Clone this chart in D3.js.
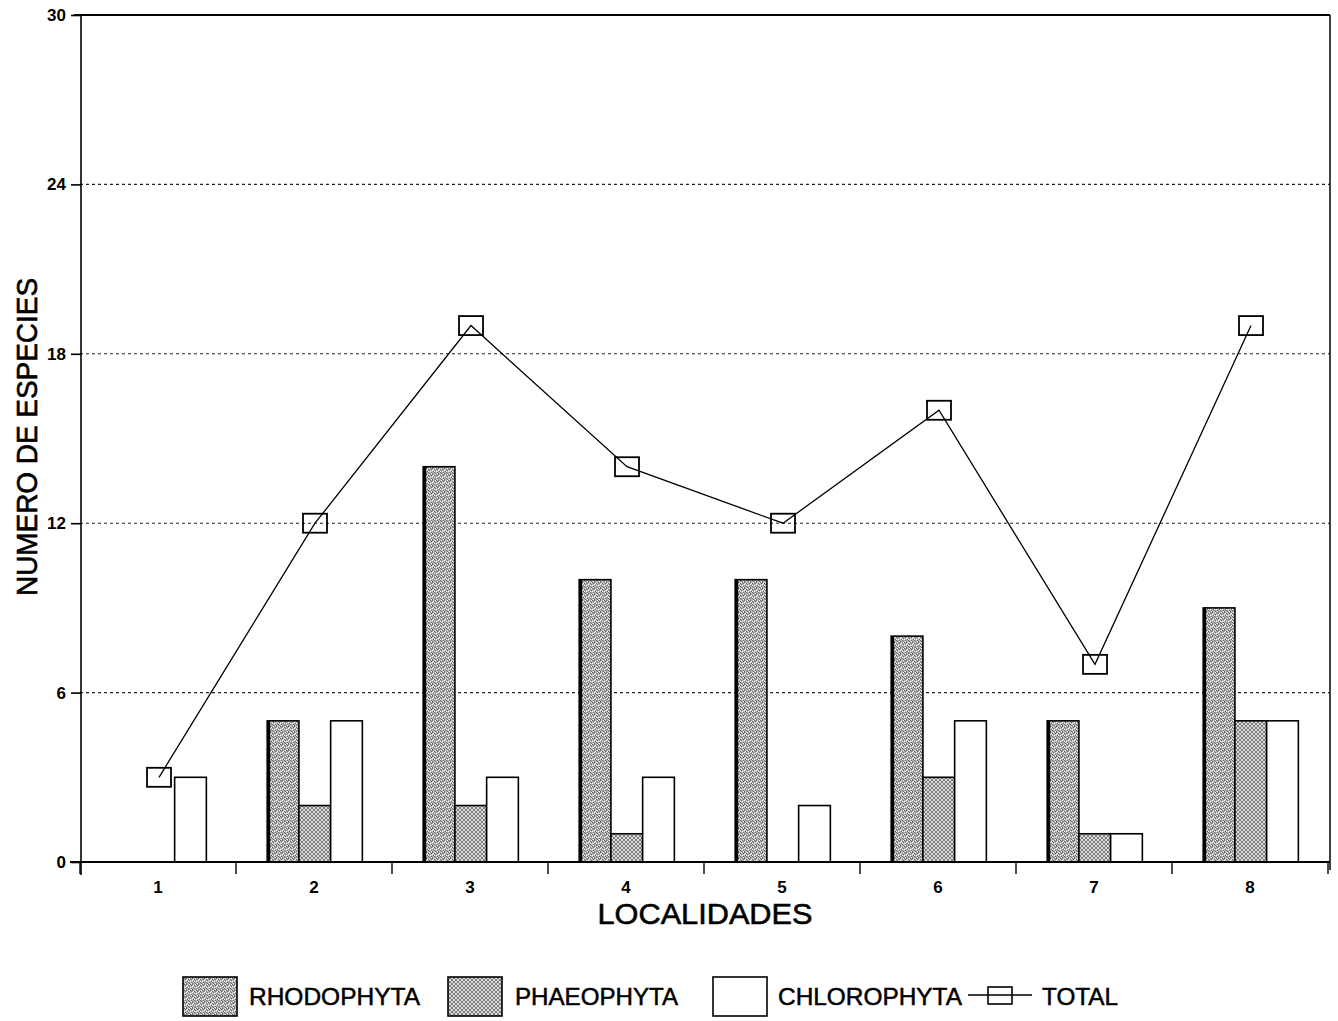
<!DOCTYPE html>
<html><head><meta charset="utf-8">
<script src="https://cdn.jsdelivr.net/npm/d3@7"></script>
<style>
html,body{margin:0;padding:0;background:#fff;}
svg{display:block;font-family:"Liberation Sans",Arial,sans-serif;}
</style></head>
<body>
<svg id="chart" width="1338" height="1021"></svg>
<script>
const categories = ["1","2","3","4","5","6","7","8"];
const seriesNames = ["RHODOPHYTA","PHAEOPHYTA","CHLOROPHYTA"];
const rhodophyta = [0,5,14,10,10,8,5,9];
const phaeophyta = [0,2,2,1,0,3,1,5];
const chlorophyta = [3,5,3,3,2,5,1,5];
const total = [3,12,19,14,12,16,7,19];
const yTicks = [0,6,12,18,24,30];

const svg = d3.select("#chart");
const defs = svg.append("defs");

// Rhodophyta: grainy grey
const pr = defs.append("pattern").attr("id","pRhodo").attr("patternUnits","userSpaceOnUse").attr("width",6).attr("height",6);
pr.append("rect").attr("width",6).attr("height",6).attr("fill","#b8b8b8");
[[0,0],[2,1],[4,0],[1,3],[3,2],[5,4],[0,5],[3,5],[2,4],[5,1]].forEach(([x,y])=>pr.append("rect").attr("x",x).attr("y",y).attr("width",1).attr("height",1).attr("fill","#666"));
[[1,1],[4,3],[0,2],[3,0],[5,5],[2,3]].forEach(([x,y])=>pr.append("rect").attr("x",x).attr("y",y).attr("width",1).attr("height",1).attr("fill","#fff"));

// Phaeophyta: crosshatch
const pp = defs.append("pattern").attr("id","pPhaeo").attr("patternUnits","userSpaceOnUse").attr("width",4).attr("height",4);
pp.append("rect").attr("width",4).attr("height",4).attr("fill","#dcdcdc");
pp.append("path").attr("d","M0,0L4,4M4,0L0,4").attr("stroke","#666").attr("stroke-width",0.8);

const fills = ["url(#pRhodo)","url(#pPhaeo)","#fff"];
const seriesData = [rhodophyta, phaeophyta, chlorophyta];

const x0 = d3.scaleBand().domain(categories).range([80,1328]).paddingInner(0).paddingOuter(0);
const bw = x0.bandwidth();
const x1 = d3.scaleBand().domain(seriesNames).range([bw*0.2, bw*0.81]).padding(0);
const y = d3.scaleLinear().domain([0,30]).range([862,15]);

// gridlines
svg.append("g").selectAll("line").data(yTicks.filter(t=>t>0 && t<30)).join("line")
  .attr("x1",80).attr("x2",1330).attr("y1",d=>y(d)).attr("y2",d=>y(d))
  .attr("stroke","#222").attr("stroke-width",1.1).attr("stroke-dasharray","3,3");

// bars
const g = svg.append("g");
seriesNames.forEach((s,si)=>{
  g.selectAll(".b"+si).data(categories.map((c,i)=>({c,v:seriesData[si][i]})).filter(d=>d.v>0)).join("rect")
    .attr("x",d=>x0(d.c)+x1(s)).attr("width",x1.bandwidth())
    .attr("y",d=>y(d.v)).attr("height",d=>y(0)-y(d.v))
    .attr("fill",fills[si]).attr("stroke","#000").attr("stroke-width",1.6);
  if(si===0){
    g.selectAll(".e"+si).data(categories.map((c,i)=>({c,v:seriesData[si][i]})).filter(d=>d.v>0)).join("line")
      .attr("x1",d=>x0(d.c)+x1(s)+1.5).attr("x2",d=>x0(d.c)+x1(s)+1.5)
      .attr("y1",d=>y(d.v)).attr("y2",y(0)).attr("stroke","#000").attr("stroke-width",3);
  }
});

// frame
svg.append("line").attr("x1",74).attr("x2",1330).attr("y1",y(30)).attr("y2",y(30)).attr("stroke","#000").attr("stroke-width",1.8);
svg.append("line").attr("x1",1330).attr("x2",1330).attr("y1",y(30)).attr("y2",870).attr("stroke","#000").attr("stroke-width",1.5);

// y axis
const yAxis = d3.axisLeft(y).tickValues(yTicks).tickSize(10).tickPadding(5).tickFormat(d3.format("d"));
const ya = svg.append("g").attr("transform","translate(81,0)").call(yAxis);
ya.attr("font-size",null).attr("font-family",null);
ya.select(".domain").remove();
ya.append("line").attr("x1",0).attr("x2",0).attr("y1",y(30)).attr("y2",875).attr("stroke","#000").attr("stroke-width",1.6);
ya.selectAll(".tick line").attr("stroke","#000").attr("stroke-width",1.6);
ya.selectAll(".tick text").style("font-size","17px").style("font-weight","bold").attr("fill","#000");

// x axis
const xa = svg.append("g").attr("transform",`translate(0,${y(0)})`);
xa.append("line").attr("x1",70).attr("x2",1330).attr("y1",0).attr("y2",0).attr("stroke","#000").attr("stroke-width",1.8);
xa.selectAll(".xt").data(categories.concat(["end"])).join("line")
  .attr("x1",d=>d==="end"?1328:x0(d)).attr("x2",d=>d==="end"?1328:x0(d))
  .attr("y1",0).attr("y2",12).attr("stroke","#000").attr("stroke-width",1.4);
xa.selectAll(".xl").data(categories).join("text")
  .attr("x",d=>x0(d)+bw/2).attr("y",31).attr("text-anchor","middle")
  .style("font-size","17px").style("font-weight","bold").text(d=>d);

// total line
const line = d3.line().x((d,i)=>x0(categories[i])+bw/2+1).y(d=>y(d));
svg.append("path").datum(total).attr("d",line).attr("fill","none").attr("stroke","#000").attr("stroke-width",1.3);
svg.append("g").selectAll("rect").data(total).join("rect")
  .attr("x",(d,i)=>x0(categories[i])+bw/2+1-12).attr("y",d=>y(d)-9.5)
  .attr("width",24).attr("height",19).attr("fill","none").attr("stroke","#000").attr("stroke-width",1.8);

// titles
svg.append("text").attr("x",705).attr("y",924).attr("text-anchor","middle")
  .attr("font-size",30).attr("stroke","#000").attr("stroke-width",0.6)
  .attr("textLength",215).attr("lengthAdjust","spacingAndGlyphs").text("LOCALIDADES");
svg.append("text").attr("transform","translate(37,437) rotate(-90)").attr("text-anchor","middle")
  .attr("font-size",29).attr("stroke","#000").attr("stroke-width",0.6)
  .attr("textLength",318).attr("lengthAdjust","spacingAndGlyphs").text("NUMERO DE ESPECIES");

// legend
const legendItems = [
  {name:"RHODOPHYTA", fill:fills[0], sx:183, tx:249, tl:171},
  {name:"PHAEOPHYTA", fill:fills[1], sx:448, tx:515, tl:163},
  {name:"CHLOROPHYTA", fill:fills[2], sx:713, tx:778, tl:184},
];
const lg = svg.append("g");
legendItems.forEach(it=>{
  lg.append("rect").attr("x",it.sx).attr("y",977).attr("width",54).attr("height",39)
    .attr("fill",it.fill).attr("stroke","#000").attr("stroke-width",1.6);
  lg.append("text").attr("x",it.tx).attr("y",1005).attr("font-size",24)
    .attr("stroke","#000").attr("stroke-width",0.5)
    .attr("textLength",it.tl).attr("lengthAdjust","spacingAndGlyphs").text(it.name);
});
lg.append("line").attr("x1",968).attr("x2",1032).attr("y1",995).attr("y2",995).attr("stroke","#000").attr("stroke-width",1.3);
lg.append("rect").attr("x",988).attr("y",987).attr("width",24).attr("height",17).attr("fill","none").attr("stroke","#000").attr("stroke-width",1.6);
lg.append("text").attr("x",1042).attr("y",1005).attr("font-size",24).attr("stroke","#000").attr("stroke-width",0.5)
  .attr("textLength",76).attr("lengthAdjust","spacingAndGlyphs").text("TOTAL");
</script>
</body></html>
